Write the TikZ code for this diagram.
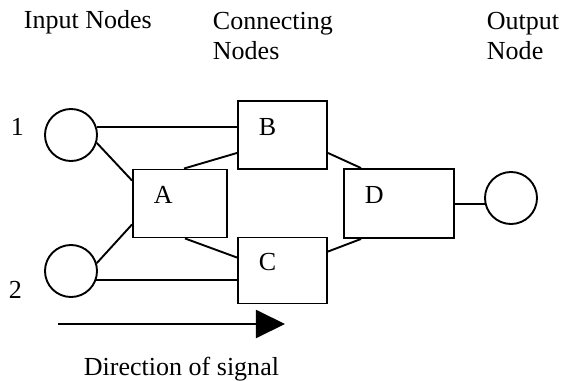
\documentclass[tikz,border=0pt]{standalone}
\usepackage{fontspec}
\setmainfont{Liberation Serif}
\usetikzlibrary{positioning, arrows.meta, calc}

\begin{document}
\begin{tikzpicture}[
    x=0.025cm, y=-0.025cm,
    line width=1.35pt,
    every node/.style={font=\fontsize{18.5}{22}\selectfont},
    % Network styles
    unit/.style={
        circle,
        draw,
        minimum size=1.3cm,
        inner sep=0pt
    },
    cell/.style={
        rectangle,
        draw,
        inner xsep=0.525cm,
        inner ysep=0pt,
        align=left,
        text height=0.4cm,
        text depth=0.4cm
    },
    heading/.style={
        inner sep=0pt,
        anchor=base west,
        align=left
    },
    signal/.style={
        -{Triangle[length=0.725cm, width=0.7cm]}
    }
]
\useasboundingbox (0,0) rectangle (565,381);

% === Headings (base = last line) ===
\node[heading] (hin) at (23,29) {Input Nodes};
\node[heading] (hconn) at (212,60) {Connecting\\Nodes};
\node[heading] (hout) at (486,60) {Output\\Node};

% === Input and output nodes ===
\node[unit] (in1) at (71,135) {};
\node[unit] (in2) at (71,271) {};
\node[unit] (out) at (511,198) {};
\node[heading] (n1) at (10,135) {1};
\node[heading] (n2) at (8,298) {2};

% === Connecting nodes ===
\node[cell, minimum width=2.35cm, minimum height=1.7cm, text width=1.3cm] (a) at (180,203.5) {A};
\node[cell, minimum width=2.225cm, minimum height=1.7cm, text width=1.175cm] (b) at (282.5,135) {B};
\node[cell, minimum width=2.225cm, minimum height=1.65cm, text width=1.175cm] (c) at (282.5,270.5) {C};
\node[cell, minimum width=2.75cm, minimum height=1.725cm, text width=1.7cm] (d) at (399,203.5) {D};

% === Links ===
\draw (in1.18) -- (in1.18 -| b.west);
\draw (in1.-17) -- ($(a.north west)+(0,12)$);
\draw (in2.17) -- ($(a.south west)+(0,-14)$);
\draw (in2.-20) -- (in2.-20 -| c.west);
\draw ($(a.north)+(4,0)$) -- ($(b.south west)+(0,-17)$);
\draw ($(a.south)+(5,0)$) -- ($(c.north west)+(0,21)$);
\draw ($(b.south east)+(0,-17)$) -- ($(d.north west)+(18,0)$);
\draw ($(c.north east)+(0,15)$) -- ($(d.south west)+(18,0)$);
\draw (out.192 -| d.east) -- (out.192);

% === Signal direction ===
\coordinate (sigtail) at (58,324);
\coordinate (sighead) at (285,324);
\draw[signal] (sigtail) -- (sighead);
\node[heading] (sigtext) at (83,375) {Direction of signal};

\end{tikzpicture}
\end{document}
